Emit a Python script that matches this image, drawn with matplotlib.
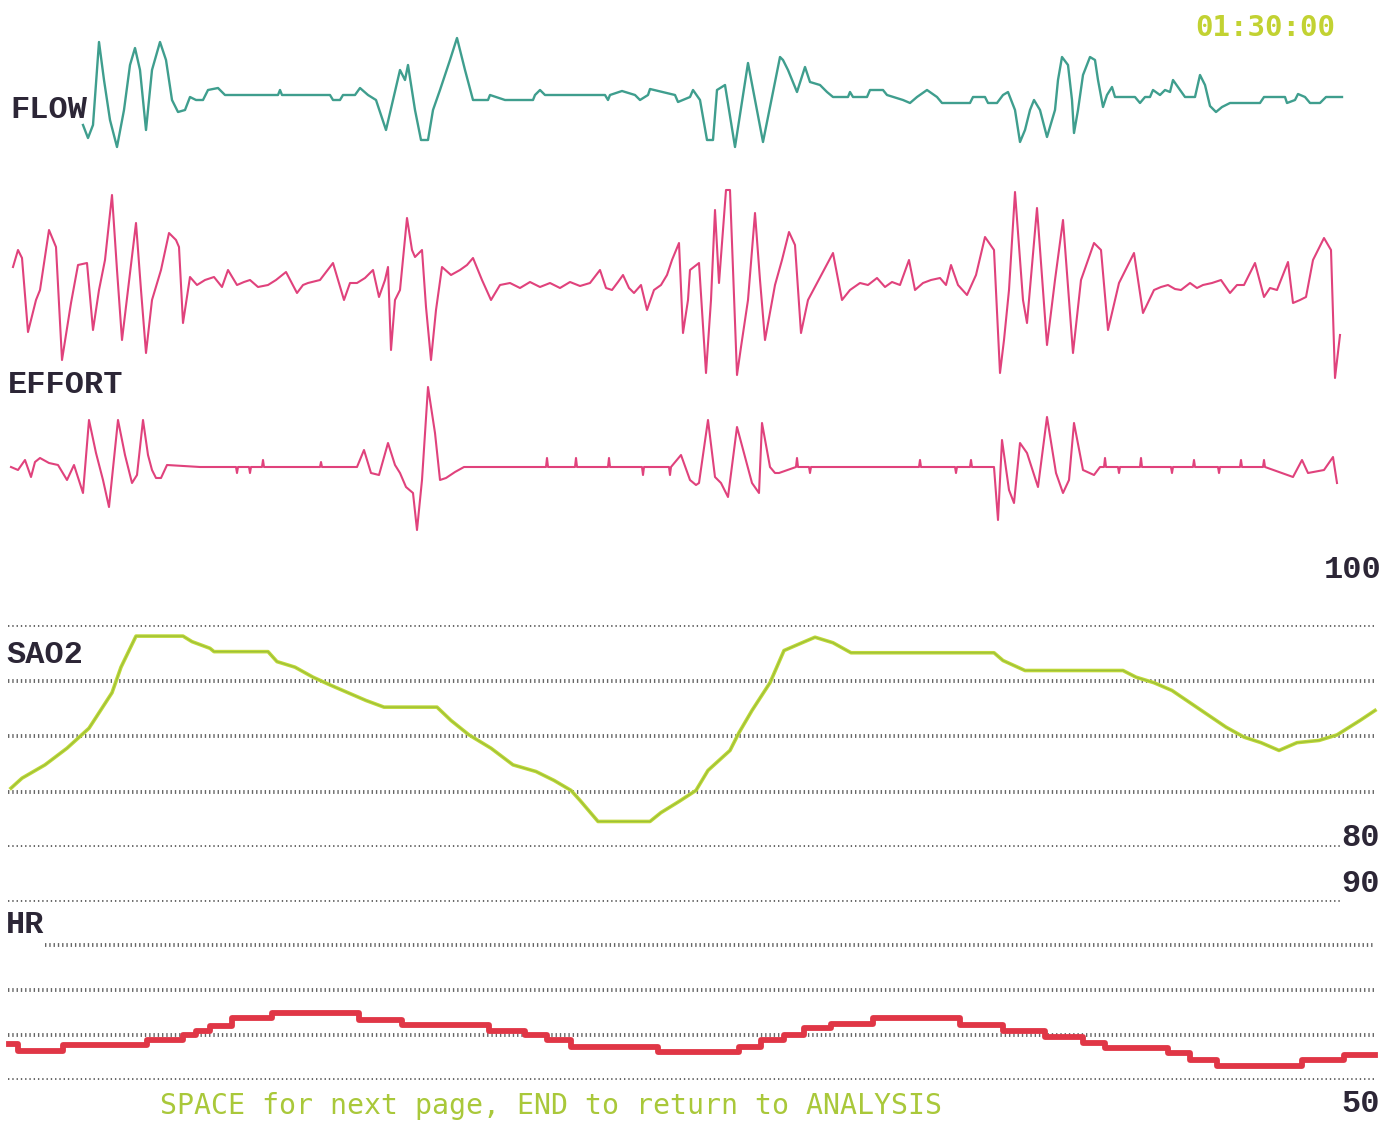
import numpy as np
import matplotlib.pyplot as plt

# screen size in pixels, x of every channel runs in sample columns 0..W
W, H = 1391, 1130

# ---- FLOW (arbitrary units, 0 = baseline)
flow_t = [83, 88, 93, 99, 104, 110, 117, 124, 130, 135, 140, 146, 152, 160, 166, 172, 178, 185,
          190, 196, 203, 208, 218, 225, 278, 280, 282, 330, 333, 340, 343, 355, 360, 368, 376, 386,
          393, 400, 405, 408, 415, 421, 428, 433, 440, 450, 457, 465, 473, 488, 490, 505, 533, 535,
          540, 545, 605, 608, 610, 622, 635, 640, 648, 650, 675, 678, 690, 693, 700, 707, 713, 717,
          725, 735, 748, 763, 780, 783, 788, 797, 805, 810, 820, 827, 833, 848, 850, 853, 867, 870,
          883, 887, 903, 910, 917, 927, 937, 942, 970, 973, 985, 988, 997, 1003, 1008, 1015, 1020,
          1025, 1030, 1034, 1040, 1047, 1055, 1058, 1062, 1068, 1072, 1074, 1078, 1083, 1090, 1095,
          1098, 1103, 1107, 1112, 1115, 1135, 1140, 1145, 1150, 1153, 1160, 1165, 1170, 1173, 1180,
          1185, 1195, 1200, 1205, 1210, 1216, 1222, 1230, 1260, 1264, 1285, 1287, 1295, 1298, 1305,
          1310, 1320, 1326, 1342]
flow_v = [-28, -41, -28, 55, 17, -23, -50, -13, 32, 49, 27, -33, 27, 55, 37, -3, -15, -13,
          0, -3, -3, 7, 9, 2, 2, 7, 2, 2, -3, -3, 2, 2, 9, 2, -3, -33,
          -3, 27, 17, 32, -13, -43, -43, -13, 7, 37, 59, 27, -3, -3, 2, -3, -3, 2,
          7, 2, 2, -3, 2, 6, 2, -3, 2, 8, 2, -5, 0, 7, -3, -43, -43, 7,
          12, -50, 34, -45, 40, 37, 27, 5, 30, 15, 12, 5, 0, 0, 5, 0, 0, 7,
          7, 2, -3, -6, 0, 7, 0, -6, -6, 0, 0, -6, -6, 2, 5, -13, -45,
          -33, -13, -3, -13, -40, -13, 17, 40, 32, -3, -36, -13, 22, 40, 37,
          17, -10, 2, 10, 0, 0, -6, 0, 0, 7, 2, 7, 5, 17, 7,
          0, 0, 22, 12, -9, -15, -10, -6, -6, 0, 0, -6, -3, 3, 0,
          -6, -6, 0, 0]

# ---- EFFORT, upper trace
eff1_t = [13, 18, 22, 28, 36, 40, 49, 56, 62, 71, 78, 87, 93, 99, 105, 112, 117, 122, 128, 136,
          141, 146, 152, 161, 169, 176, 179, 183, 190, 197, 205, 214, 222, 228, 237, 244, 250, 258,
          268, 276, 286, 297, 303, 308, 320, 333, 344, 350, 357, 365, 373, 379, 385, 388, 391, 395,
          400, 407, 412, 415, 422, 426, 431, 436, 442, 451, 460, 467, 473, 482, 491, 500, 510, 520,
          530, 540, 550, 560, 570, 580, 590, 600, 606, 612, 618, 623, 629, 634, 641, 647, 654, 661,
          667, 672, 679, 683, 688, 690, 699, 706, 711, 715, 719, 726, 730, 737, 741, 748, 755, 760,
          765, 775, 782, 789, 795, 801, 808, 816, 824, 833, 842, 850, 860, 868, 877, 885, 892, 900,
          909, 915, 923, 931, 940, 946, 951, 958, 967, 976, 985, 994, 1000, 1004, 1009, 1015, 1023,
          1027, 1037, 1047, 1055, 1063, 1073, 1081, 1094, 1101, 1108, 1119, 1134, 1143, 1154, 1161,
          1168, 1175, 1181, 1190, 1197, 1203, 1212, 1221, 1230, 1237, 1244, 1255, 1264, 1270, 1277,
          1288, 1293, 1300, 1306, 1313, 1324, 1331, 1335, 1340]
eff1_v = [18, 35, 27, -47, -15, -5, 55, 38, -75, -18, 20, 22, -45, -5, 25, 90, 15, -55, -5, 62,
          -5, -68, -15, 15, 52, 45, 38, -38, 8, 0, 5, 8, -2, 15, 0, 3, 5, -2,
          0, 5, 13, -8, 0, 2, 5, 22, -15, 2, 2, 7, 15, -12, 5, 18, -65, -15,
          -5, 67, 35, 28, 35, -22, -75, -25, 18, 10, 15, 20, 27, 5, -15, 0, 2, -3,
          3, -2, 2, -3, 3, -1, 2, 15, -3, -5, 3, 10, -3, -8, 0, -25, -5, 0,
          10, 25, 42, -48, -15, 15, 22, -88, -15, 75, 2, 95, 95, -90, -62, -15, 72, 5,
          -55, 0, 25, 53, 40, -48, -15, 0, 15, 32, -15, -5, 2, 0, 7, -2, 3, 0,
          25, -5, 2, 5, 7, 0, 20, 0, -10, 10, 48, 35, -88, -55, -5, 93, -15,
          -38, 77, -60, 5, 65, -68, 5, 42, 35, -45, 2, 32, -28, -5, -2,
          0, -4, -5, 2, -3, 0, 2, 5, -8, 0, 0, 22, -12, -3, -5,
          23, -18, -15, -12, 25, 47, 35, -93, -50]

# ---- EFFORT, lower trace
eff2_t = [11, 18, 25, 31, 35, 40, 49, 58, 67, 74, 83, 89, 96, 103, 109, 118, 125, 132, 137, 143,
          148, 152, 156, 161, 167, 200, 236, 237, 238, 249, 250, 251, 262, 263, 264, 320, 321, 322,
          357, 364, 371, 379, 388, 395, 400, 406, 413, 417, 422, 428, 435, 440, 446, 455, 464,
          546, 547, 548, 575, 576, 577, 608, 609, 610, 642, 643, 644, 669, 670, 671, 681, 690, 696,
          699, 708, 715, 721, 728, 737, 744, 752, 759, 762, 770, 775, 779, 796, 797, 798, 809, 810,
          811, 919, 920, 921, 955, 956, 957, 970, 971, 972, 994, 998, 1002, 1009, 1014, 1020, 1027,
          1038, 1047, 1056, 1063, 1069, 1074, 1083, 1094, 1100, 1104, 1105, 1106, 1118, 1119, 1120,
          1140, 1141, 1142, 1171, 1172, 1173, 1193, 1194, 1195, 1218, 1219, 1220, 1240, 1241, 1242,
          1263, 1264, 1265, 1293, 1302, 1308, 1324, 1333, 1337]
eff2_v = [0, -3, 7, -10, 5, 9, 4, 2, -13, 2, -26, 47, 14, -13, -40, 47, 12, -16, -8, 47,
          12, -3, -11, -11, 2, 0, 0, -6, 0, 0, -6, 0, 0, 7, 0, 0, 5, 0,
          0, 17, -6, -8, 24, 2, -6, -20, -26, -63, -13, 80, 34, -13, -11, -5, 0,
          0, 9, 0, 0, 9, 0, 0, 9, 0, 0, -8, 0, 0, -8, 0, 12, -13, -18,
          -16, 47, -10, -16, -30, 40, 14, -16, -26, 44, 0, -6, -6, 0, 9, 0, 0, -6,
          0, 0, 7, 0, 0, -6, 0, 0, 7, 0, 0, -53, 27, -23, -36, 24, 14,
          -20, 50, -6, -26, -13, 44, -3, -8, 0, 0, 9, 0, 0, -6, 0,
          0, 9, 0, 0, -6, 0, 0, 7, 0, 0, -6, 0, 0, 7, 0,
          0, 7, 0, -10, 7, -6, -3, 10, -16]

# ---- SAO2 (%)
sao2_t = [11, 22, 45, 67, 89, 112, 121, 136, 183, 192, 210, 214, 268, 277, 295, 313, 330, 348,
          366, 384, 437, 451, 469, 491, 513, 536, 554, 571, 580, 598, 650, 661, 679, 696, 708, 730,
          739, 752, 770, 784, 802, 815, 833, 851, 994, 1003, 1025, 1123, 1136, 1154, 1172, 1190,
          1208, 1226, 1244, 1261, 1279, 1297, 1319, 1337, 1360, 1375]
sao2_v = [85.3, 86.2, 87.4, 88.9, 90.7, 93.9, 96.2, 99.0, 99.0, 98.5, 97.9, 97.6, 97.6, 96.7,
          96.2, 95.3, 94.6, 93.9, 93.2, 92.6, 92.6, 91.4, 90.1, 88.9, 87.4, 86.8, 86.0, 85.1,
          84.2, 82.3, 82.3, 83.1, 84.1, 85.1, 86.9, 88.7, 90.3, 92.3, 94.8, 97.7, 98.4, 98.9,
          98.4, 97.5, 97.5, 96.8, 95.9, 95.9, 95.3, 94.8, 94.1, 93.0, 91.9, 90.8, 89.9, 89.4,
          88.7, 89.4, 89.6, 90.1, 91.4, 92.3]

# ---- HR (bpm), stepped
hr_t = [9, 18, 63, 147, 183, 196, 210, 232, 272, 359, 402, 489, 525, 547, 571, 658, 739, 761,
        784, 804, 831, 873, 960, 1003, 1045, 1083, 1105, 1168, 1190, 1217, 1302, 1344, 1375]
hr_v = [58, 56.5, 57.8, 59, 60, 61, 62, 63.8, 65, 63.3, 62.2, 61, 60, 59, 57.3, 56.3, 57.3, 58.9,
        60, 61.5, 62.4, 63.8, 62.2, 61, 59.5, 58.2, 57.1, 56, 54.5, 53.2, 54.5, 55.5, 55.5]

sao2_grid = [100, 95, 90, 85, 80]
hr_grid = [90, 80, 70, 60, 50]

INK = '#2c2636'

fig = plt.figure(figsize=(W / 100, H / 100), dpi=100)
fig.patch.set_facecolor('white')


def panel(top, bottom, ylo, yhi):
    # axes spanning the full width, rows top..bottom of the screen
    ax = fig.add_axes([0, 1 - bottom / H, 1, (bottom - top) / H])
    ax.set_xlim(0, W)
    ax.set_ylim(ylo, yhi)
    ax.axis('off')
    return ax


ax_flow = panel(30, 160, -63, 67)
ax_flow.plot(flow_t, flow_v, color='#3f9e8e', lw=1.7, clip_on=False)

ax_e1 = panel(180, 390, -105, 105)
ax_e1.plot(eff1_t, eff1_v, color='#e0427c', lw=1.5, clip_on=False)

ax_e2 = panel(380, 550, -83, 87)
ax_e2.plot(eff2_t, eff2_v, color='#e0427c', lw=1.5, clip_on=False)

dots = (0, (0.35, 0.75))

ax_sa = panel(625, 847, 80, 100)
ax_sa.hlines(sao2_grid, [8, 8, 8, 8, 8], [1375, 1375, 1375, 1375, 1340],
             colors='#666666', lw=2.8, linestyles=[dots])
ax_sa.plot(sao2_t, sao2_v, color='#bfd838', lw=2.6, clip_on=False)
ax_sa.plot(sao2_t, sao2_v, color='#86b03a', lw=0.9, clip_on=False, alpha=0.6)

ax_hr = panel(900, 1080, 50, 90)
ax_hr.hlines(hr_grid, [8, 45, 8, 8, 8], [1340, 1375, 1375, 1375, 1375],
             colors='#666666', lw=2.8, linestyles=[dots])
ax_hr.plot(hr_t, hr_v, color='#e03646', lw=4.2, drawstyle='steps-post', clip_on=False)

# text layer in screen pixels
tx = fig.add_axes([0, 0, 1, 1])
tx.set_xlim(0, W)
tx.set_ylim(H, 0)
tx.axis('off')

lab = dict(color=INK, fontsize=23, fontweight='bold',
           family=['Liberation Mono', 'DejaVu Sans Mono'], va='center')
tx.text(10, 110, 'FLOW', ha='left', **lab)
tx.text(8, 385, 'EFFORT', ha='left', **lab)
tx.text(6, 655, 'SAO2', ha='left', **lab)
tx.text(6, 925, 'HR', ha='left', **lab)
tx.text(1382, 570, '100', ha='right', **lab)
tx.text(1380, 838, '80', ha='right', **lab)
tx.text(1380, 884, '90', ha='right', **lab)
tx.text(1380, 1104, '50', ha='right', **lab)

tx.text(1195, 28, '01:30:00', ha='left', va='center', color='#c2d232', fontsize=21,
        fontweight='bold', family=['DejaVu Sans Mono'])
tx.text(160, 1106, 'SPACE for next page, END to return to ANALYSIS', ha='left', va='center',
        color='#a9c83a', fontsize=20.3, family=['DejaVu Sans Mono'])

fig.savefig('out.png', dpi=100, facecolor='white')
